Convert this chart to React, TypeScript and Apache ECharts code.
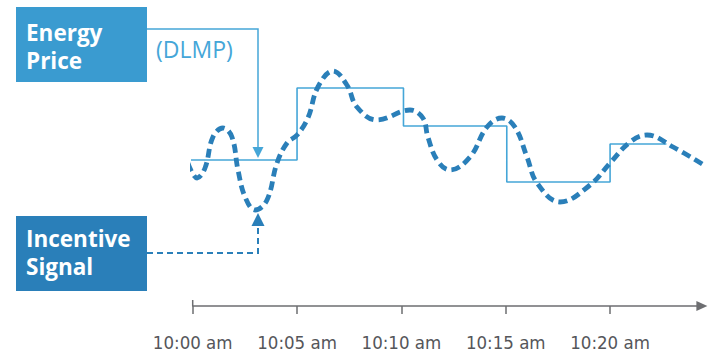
import React, { useEffect, useRef } from "react";
import * as echarts from "echarts";

// Time axis in minutes after 10:00
const tickMinutes = [0, 5, 10, 15, 20];
const tickLabels = ["10:00 am", "10:05 am", "10:10 am", "10:15 am", "10:20 am"];

// Energy price (DLMP) held constant over each interval: [minute, level]
const priceMinutes = [-0.25, 5, 10.1, 15.05, 20, 22.7];
const priceLevels = [58.4, 87.2, 72, 49.6, 64.8, 64.8];

// Incentive signal: [minute, level]
const signalMinutes = [
  -0.23, 0.21, 0.59, 0.97, 1.45, 1.88, 2.17, 2.51, 2.99, 3.56, 4.04, 4.52, 5.0, 5.52, 6.0,
  6.72, 7.39, 7.87, 8.83, 10.41, 11.03, 11.27, 11.71, 12.33, 13.29, 14.1, 14.82, 15.44,
  16.02, 16.5, 17.6, 19.04, 20.0, 20.96, 21.77, 23.02, 24.65,
];
const signalLevels = [
  57.2, 51.2, 55.2, 67.6, 71.2, 67.6, 54.4, 43.6, 38.4, 42.4, 57.2, 65.2, 68.4, 75.2, 87.6,
  94, 88.4, 79.6, 74.4, 78.4, 75.2, 67.6, 58.4, 54.4, 59.6, 71.6, 75.2, 71.6,
  59.6, 49.2, 41.6, 48.4, 57.2, 65.6, 68.4, 63.6, 55.6,
];

const PRICE_BLUE = "#45a6d8";
const SIGNAL_BLUE = "#2a7fb9";
const BOX_LIGHT = "#3a9bd0";
const AXIS_GREY = "#6d6e71";

export default function App() {
  const ref = useRef<HTMLDivElement>(null);

  useEffect(() => {
    if (!ref.current) return;
    const chart = echarts.init(ref.current, null, { renderer: "svg" });

    const boxFont = "'Open Sans', 'Noto Sans', sans-serif";
    const boxText = (text: string, x: number, y: number) => ({
      type: "text",
      x,
      y,
      style: { text, fill: "#ffffff", font: `bold 22.5px ${boxFont}`, lineHeight: 26 },
    });

    chart.setOption({
      animation: false,
      backgroundColor: "#ffffff",
      grid: { left: 192.7, top: 56, width: 509.2, height: 250 },
      xAxis: {
        type: "value",
        min: 0,
        max: 24.4,
        interval: 5,
        splitLine: { show: false },
        axisLine: {
          show: true,
          lineStyle: { color: AXIS_GREY, width: 1.5 },
          symbol: ["none", "triangle"],
          symbolSize: [10, 11],
        },
        axisTick: {
          show: true,
          length: 8,
          customValues: tickMinutes,
          lineStyle: { color: AXIS_GREY, width: 1.5 },
        },
        axisLabel: {
          customValues: tickMinutes,
          margin: 27,
          color: "#55565a",
          fontSize: 18.5,
          fontFamily: "'DejaVu Sans Condensed', 'Liberation Sans Narrow', sans-serif",
          formatter: (v: number) => {
            const i = tickMinutes.indexOf(Math.round(v));
            return i >= 0 ? tickLabels[i] : "";
          },
        },
      },
      yAxis: { type: "value", min: 0, max: 100, show: false },
      series: [
        {
          name: "Energy Price",
          type: "line",
          step: "end",
          clip: false,
          showSymbol: false,
          data: priceMinutes.map((m, i) => [m, priceLevels[i]]),
          lineStyle: { color: PRICE_BLUE, width: 1.6 },
          z: 2,
        },
        {
          name: "Incentive Signal",
          type: "line",
          smooth: 0.4,
          clip: false,
          showSymbol: false,
          data: signalMinutes.map((m, i) => [m, signalLevels[i]]),
          lineStyle: { color: SIGNAL_BLUE, width: 4.8, type: [9, 5], cap: "butt" },
          z: 3,
        },
      ],
      graphic: [
        // Energy price call-out
        {
          type: "rect",
          shape: { x: 16, y: 7, width: 131, height: 75 },
          style: { fill: BOX_LIGHT },
        },
        boxText("Energy", 26, 19),
        boxText("Price", 26, 47),
        {
          type: "text",
          x: 156,
          y: 37,
          style: {
            text: "(DLMP)",
            fill: PRICE_BLUE,
            font: `23px ${boxFont}`,
          },
        },
        {
          type: "polyline",
          shape: { points: [[147, 29], [258, 29], [258, 149]] },
          style: { stroke: PRICE_BLUE, lineWidth: 1.5, fill: "none" },
        },
        {
          type: "polygon",
          shape: { points: [[252.5, 147], [263.5, 147], [258, 158]] },
          style: { fill: PRICE_BLUE },
        },
        // Incentive signal call-out
        {
          type: "rect",
          shape: { x: 16, y: 216, width: 131, height: 75 },
          style: { fill: SIGNAL_BLUE },
        },
        boxText("Incentive", 26, 225),
        boxText("Signal", 26, 253),
        {
          type: "polyline",
          shape: { points: [[147, 253], [258, 253], [258, 225]] },
          style: { stroke: SIGNAL_BLUE, lineWidth: 2, fill: "none", lineDash: [6, 4] },
        },
        {
          type: "polygon",
          shape: { points: [[251.5, 226], [264.5, 226], [258, 213]] },
          style: { fill: SIGNAL_BLUE },
        },
        // cap at the start of the time axis
        {
          type: "line",
          shape: { x1: 192.7, y1: 300, x2: 192.7, y2: 306 },
          style: { stroke: AXIS_GREY, lineWidth: 1.5 },
        },
      ],
    });

    return () => chart.dispose();
  }, []);

  return (
    <div
      ref={ref}
      style={{ position: "fixed", left: 0, top: 0, width: 712, height: 356 }}
    />
  );
}
